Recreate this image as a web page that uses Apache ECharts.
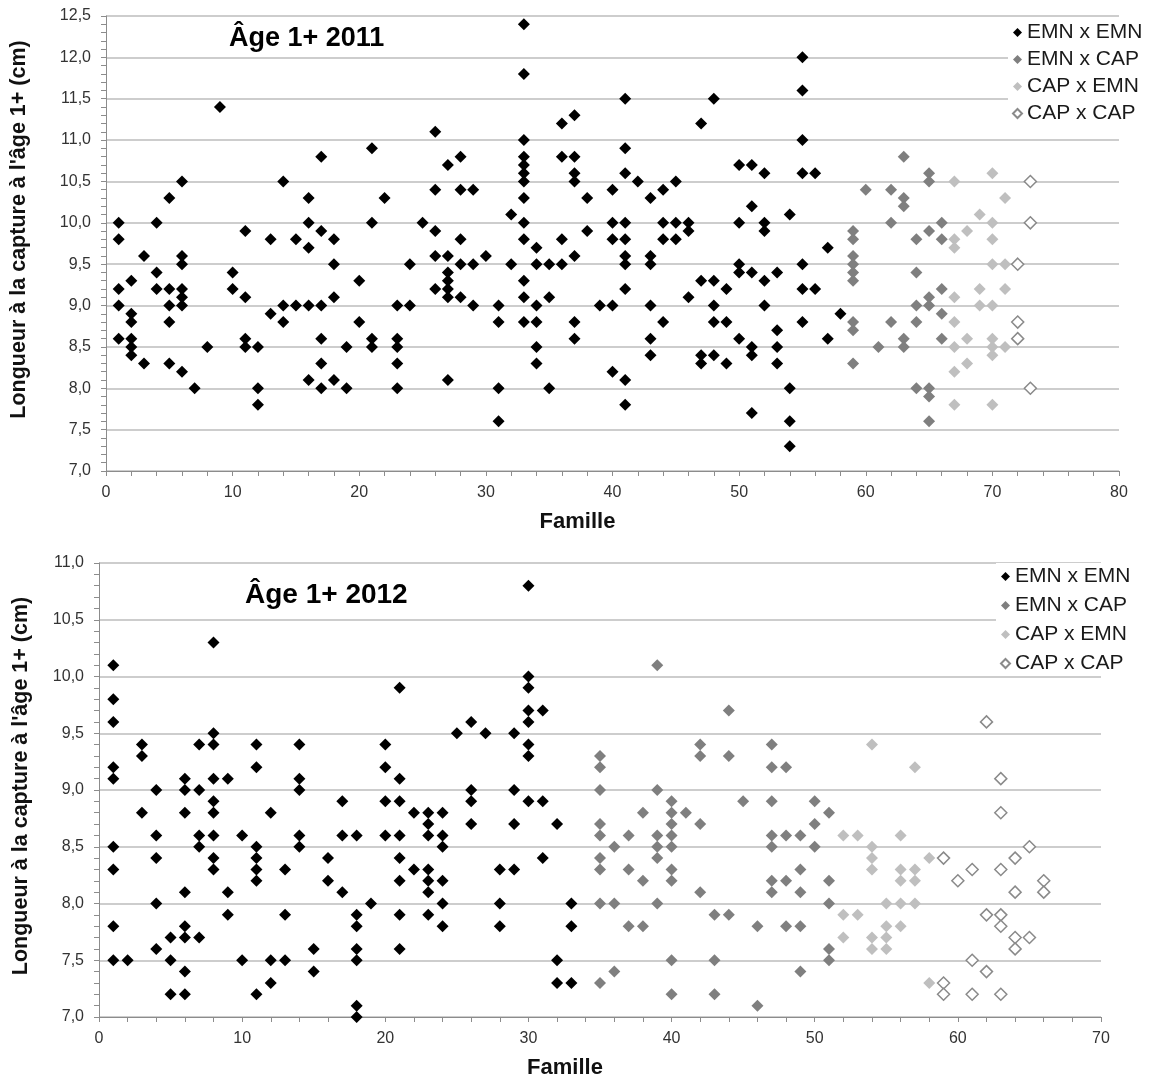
<!DOCTYPE html>
<html>
<head>
<meta charset="utf-8">
<script src="https://cdn.jsdelivr.net/npm/echarts@6/dist/echarts.min.js"></script>
<style>
  html, body { margin: 0; padding: 0; background: #fff; }
  #chart { width: 1149px; height: 1082px; }
</style>
</head>
<body>
<div id="chart"></div>
<script>
// noms des croisements (légende)
const crossNames = ['EMN x EMN', 'EMN x CAP', 'CAP x EMN', 'CAP x CAP'];

// 2011 : [famille, [longueurs à la capture (cm)]]
const emnEmn2011 = [
  [1, [10.0, 9.8, 9.2, 9.0, 8.6]], [2, [9.3, 8.9, 8.8, 8.6, 8.5, 8.4]], [3, [9.6, 8.3]],
  [4, [10.0, 9.4, 9.2]], [5, [10.3, 9.2, 9.0, 8.8, 8.3]], [6, [10.5, 9.6, 9.5, 9.2, 9.1, 9.0, 8.2]],
  [7, [8.0]], [8, [8.5]], [9, [11.4]], [10, [9.4, 9.2]], [11, [9.9, 9.1, 8.6, 8.5]],
  [12, [8.5, 8.0, 7.8]], [13, [9.8, 8.9]], [14, [10.5, 9.0, 8.8]], [15, [9.8, 9.0]],
  [16, [10.3, 10.0, 9.7, 9.0, 8.1]], [17, [10.8, 9.9, 9.0, 8.6, 8.3, 8.0]], [18, [9.8, 9.5, 9.1, 8.1]],
  [19, [8.5, 8.0]], [20, [9.3, 8.8]], [21, [10.9, 10.0, 8.6, 8.5]], [22, [10.3]],
  [23, [9.0, 8.6, 8.5, 8.3, 8.0]], [24, [9.5, 9.0]], [25, [10.0]], [26, [11.1, 10.4, 9.9, 9.6, 9.2]],
  [27, [10.7, 9.6, 9.4, 9.3, 9.2, 9.1, 8.1]], [28, [10.8, 10.4, 9.8, 9.5, 9.1]], [29, [10.4, 9.5, 9.0]],
  [30, [9.6]], [31, [9.0, 8.8, 8.0, 7.6]], [32, [10.1, 9.5]],
  [33, [12.4, 11.8, 11.0, 10.8, 10.7, 10.6, 10.5, 10.3, 10.0, 9.8, 9.3, 9.1, 8.8]],
  [34, [9.7, 9.5, 9.0, 8.8, 8.5, 8.3]], [35, [9.5, 9.1, 8.0]], [36, [11.2, 10.8, 9.8, 9.5]],
  [37, [11.3, 10.8, 10.6, 10.5, 9.6, 8.8, 8.6]], [38, [10.3, 9.9]], [39, [9.0]],
  [40, [10.4, 10.0, 9.8, 9.0, 8.2]], [41, [11.5, 10.9, 10.6, 10.0, 9.8, 9.6, 9.5, 9.2, 8.1, 7.8]],
  [42, [10.5]], [43, [10.3, 9.6, 9.5, 9.0, 8.6, 8.4]], [44, [10.4, 10.0, 9.8, 8.8]],
  [45, [10.5, 10.0, 9.8]], [46, [10.0, 9.9, 9.1]], [47, [11.2, 9.3, 8.4, 8.3]],
  [48, [11.5, 9.3, 9.0, 8.8, 8.4]], [49, [9.2, 8.8, 8.3]], [50, [10.7, 10.0, 9.5, 9.4, 8.6]],
  [51, [10.7, 10.2, 9.4, 8.5, 8.4, 7.7]], [52, [10.6, 10.0, 9.9, 9.3, 9.0]], [53, [9.4, 8.7, 8.5, 8.3]],
  [54, [10.1, 8.0, 7.6, 7.3]], [55, [12.0, 11.6, 11.0, 10.6, 9.5, 9.2, 8.8]], [56, [10.6, 9.2]],
  [57, [9.7, 8.6]], [58, [8.9]]
];
const emnCap2011 = [
  [59, [9.9, 9.8, 9.6, 9.5, 9.4, 9.3, 8.8, 8.7, 8.3]], [60, [10.4]], [61, [8.5]],
  [62, [10.4, 10.0, 8.8]], [63, [10.8, 10.3, 10.2, 8.6, 8.5]], [64, [9.8, 9.4, 9.0, 8.8, 8.0]],
  [65, [10.6, 10.5, 9.9, 9.1, 9.0, 8.0, 7.9, 7.6]], [66, [10.0, 9.8, 9.2, 8.9, 8.6]]
];
const capEmn2011 = [
  [67, [10.5, 9.8, 9.7, 9.1, 8.8, 8.5, 8.2, 7.8]], [68, [9.9, 8.6, 8.3]], [69, [10.1, 9.2, 9.0]],
  [70, [10.6, 10.0, 9.8, 9.5, 9.0, 8.6, 8.5, 8.4, 7.8]], [71, [10.3, 9.5, 9.2, 8.5]]
];
const capCap2011 = [[72, [9.5, 8.8, 8.6]], [73, [10.5, 10.0, 8.0]]];

// 2012
const emnEmn2012 = [
  [1, [10.1, 9.8, 9.6, 9.2, 9.1, 8.5, 8.3, 7.8, 7.5]], [2, [7.5]], [3, [9.4, 9.3, 8.8]],
  [4, [9.0, 8.6, 8.4, 8.0, 7.6]], [5, [7.7, 7.5, 7.2]], [6, [9.1, 9.0, 8.8, 8.1, 7.8, 7.7, 7.4, 7.2]],
  [7, [9.4, 9.0, 8.6, 8.5, 7.7]], [8, [10.3, 9.5, 9.4, 9.1, 8.9, 8.8, 8.6, 8.4, 8.3]],
  [9, [9.1, 8.1, 7.9]], [10, [8.6, 7.5]], [11, [9.4, 9.2, 8.5, 8.4, 8.3, 8.2, 7.2]],
  [12, [8.8, 7.5, 7.3]], [13, [8.3, 7.9, 7.5]], [14, [9.4, 9.1, 9.0, 8.6, 8.5]], [15, [7.6, 7.4]],
  [16, [8.4, 8.2]], [17, [8.9, 8.6, 8.1]], [18, [8.6, 7.9, 7.8, 7.6, 7.5, 7.1, 7.0]], [19, [8.0]],
  [20, [9.4, 9.2, 8.9, 8.6]], [21, [9.9, 9.1, 8.9, 8.6, 8.4, 8.2, 7.9, 7.6]], [22, [8.8, 8.3]],
  [23, [8.8, 8.7, 8.6, 8.3, 8.2, 8.1, 7.9]], [24, [8.8, 8.6, 8.5, 8.2, 8.0, 7.8]], [25, [9.5]],
  [26, [9.6, 9.0, 8.9, 8.7]], [27, [9.5]], [28, [8.3, 8.0, 7.8]], [29, [9.5, 9.0, 8.7, 8.3]],
  [30, [10.8, 10.0, 9.9, 9.7, 9.6, 9.4, 9.3, 8.9]], [31, [9.7, 8.9, 8.4]], [32, [8.7, 7.5, 7.3]],
  [33, [8.0, 7.8, 7.3]]
];
const emnCap2012 = [
  [35, [9.3, 9.2, 9.0, 8.7, 8.6, 8.4, 8.3, 8.0, 7.3]], [36, [8.5, 8.0, 7.4]], [37, [8.6, 8.3, 7.8]],
  [38, [8.8, 8.2, 7.8]], [39, [10.1, 9.0, 8.6, 8.5, 8.4, 8.0]],
  [40, [8.9, 8.8, 8.7, 8.6, 8.5, 8.3, 8.2, 7.5, 7.2]], [41, [8.8]], [42, [9.4, 9.3, 8.7, 8.1]],
  [43, [7.9, 7.5, 7.2]], [44, [9.7, 9.3, 7.9]], [45, [8.9]], [46, [7.8, 7.1]],
  [47, [9.4, 9.2, 8.9, 8.6, 8.5, 8.2, 8.1]], [48, [9.2, 8.6, 8.2, 7.8]], [49, [8.6, 8.3, 8.1, 7.8, 7.4]],
  [50, [8.9, 8.7, 8.5]], [51, [8.8, 8.2, 8.0, 7.6, 7.5]]
];
const capEmn2012 = [
  [52, [8.6, 7.9, 7.7]], [53, [8.6, 7.9]], [54, [9.4, 8.5, 8.4, 8.3, 7.7, 7.6]],
  [55, [8.0, 7.8, 7.7, 7.6]], [56, [8.6, 8.3, 8.2, 8.0, 7.8]], [57, [9.2, 8.3, 8.2, 8.0]], [58, [8.4, 7.3]]
];
const capCap2012 = [
  [59, [8.4, 7.3, 7.2]], [60, [8.2]], [61, [8.3, 7.5, 7.2]], [62, [9.6, 7.9, 7.4]],
  [63, [9.1, 8.8, 8.3, 7.9, 7.8, 7.2]], [64, [8.4, 8.1, 7.7, 7.6]], [65, [8.5, 7.7]], [66, [8.2, 8.1]]
];

const FONT = 'Liberation Sans';

// aplatir [famille, [valeurs]] -> [[famille, valeur], ...]
function expand(groups) {
  return groups.flatMap(([x, ys]) => ys.map(y => [x, y]));
}

const markStyles = [
  { color: '#000000', opacity: 1 },
  { color: '#7f7f7f', opacity: 1 },
  { color: '#bfbfbf', opacity: 1 },
  { color: '#ffffff', borderColor: '#8a8a8a', borderWidth: 1.5, opacity: 1 }
];

function makeSeries(groupsList, idx) {
  return groupsList.map((groups, i) => ({
    name: crossNames[i],
    type: 'scatter',
    xAxisIndex: idx,
    yAxisIndex: idx,
    symbol: 'diamond',
    symbolSize: 12,
    itemStyle: markStyles[i],
    data: expand(groups)
  }));
}

const comma = v => v.toFixed(1).replace('.', ',');

function xAxisOf(idx, max) {
  return {
    gridIndex: idx, type: 'value', min: 0, max: max, interval: 10,
    name: 'Famille', nameLocation: 'middle', nameGap: 40,
    nameTextStyle: { fontFamily: FONT, fontWeight: 'bold', fontSize: 22, color: '#111', padding: [0, 70, 0, 0] },
    axisLine: { show: true, lineStyle: { color: '#8c8c8c' } },
    axisTick: { show: true, length: 5, lineStyle: { color: '#8c8c8c' } },
    minorTick: { show: true, splitNumber: 5, length: 5, lineStyle: { color: '#8c8c8c' } },
    axisLabel: { fontFamily: FONT, fontSize: 16, color: '#333', margin: 14 },
    splitLine: { show: false }
  };
}

function yAxisOf(idx, max, gap, pad) {
  return {
    gridIndex: idx, type: 'value', min: 7, max: max, interval: 0.5,
    name: "Longueur à la capture à l'âge 1+ (cm)", nameLocation: 'middle', nameGap: gap, nameRotate: 90,
    nameTextStyle: { fontFamily: FONT, fontWeight: 'bold', fontSize: 21.5, color: '#111', padding: pad },
    axisLine: { show: true, lineStyle: { color: '#8c8c8c' } },
    axisTick: { show: true, length: 5, lineStyle: { color: '#8c8c8c' } },
    minorTick: { show: true, splitNumber: 5, length: 5, lineStyle: { color: '#8c8c8c' } },
    axisLabel: { fontFamily: FONT, fontSize: 16, color: '#333', margin: 15, formatter: comma },
    splitLine: { show: true, lineStyle: { color: '#bdbdbd', width: 1.5 } }
  };
}

function legendOf(left, top, gap) {
  return {
    orient: 'vertical', left: left, top: top, itemGap: gap,
    itemWidth: 9, itemHeight: 9, padding: [3, 6, 0, 4],
    backgroundColor: '#ffffff',
    textStyle: { fontFamily: FONT, fontSize: 21, color: '#1a1a1a' },
    data: crossNames
  };
}

const chart = echarts.init(document.getElementById('chart'));
chart.setOption({
  animation: false,
  backgroundColor: '#ffffff',
  title: [
    { text: 'Âge 1+ 2011', left: 224, top: 20, textStyle: { fontFamily: FONT, fontWeight: 'bold', fontSize: 27, color: '#000' } },
    { text: 'Âge 1+ 2012', left: 240, top: 576, textStyle: { fontFamily: FONT, fontWeight: 'bold', fontSize: 28, color: '#000' } }
  ],
  legend: [legendOf(1008, 19, 6), legendOf(996, 563, 8)],
  grid: [
    { left: 106, top: 16, width: 1013, height: 455 },
    { left: 99, top: 563, width: 1002, height: 454 }
  ],
  xAxis: [xAxisOf(0, 80), xAxisOf(1, 70)],
  yAxis: [yAxisOf(0, 12.5, 76, [0, 0, 0, 28]), yAxisOf(1, 11, 67, [0, 0, 0, 8])],
  series: [
    ...makeSeries([emnEmn2011, emnCap2011, capEmn2011, capCap2011], 0),
    ...makeSeries([emnEmn2012, emnCap2012, capEmn2012, capCap2012], 1)
  ]
});
</script>
</body>
</html>
